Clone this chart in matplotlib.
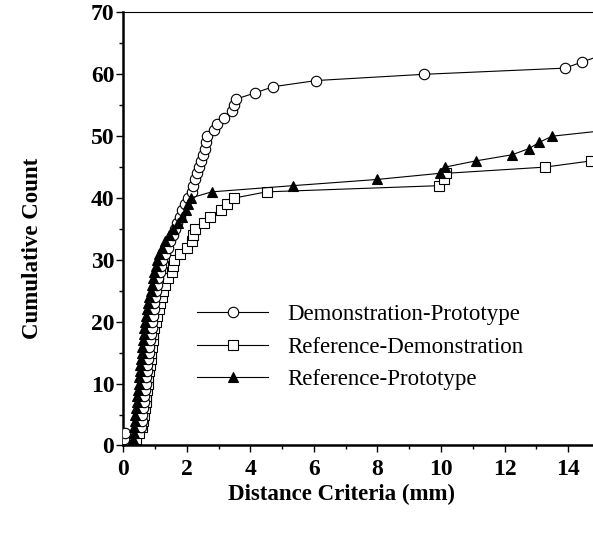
import matplotlib
matplotlib.use("Agg")
import matplotlib.pyplot as plt
from matplotlib.ticker import MultipleLocator

plt.rcParams['font.family'] = ['Liberation Serif', 'DejaVu Serif']

# Distance (mm) at which each successive match was counted
demo_proto_x = [0.03, 0.05, 0.55, 0.58, 0.60, 0.62, 0.64, 0.66, 0.68, 0.70,
                0.72, 0.74, 0.76, 0.78, 0.80, 0.82, 0.84, 0.86, 0.89, 0.91,
                0.94, 0.96, 0.98, 1.00, 1.03, 1.06, 1.10, 1.14, 1.18, 1.22,
                1.30, 1.40, 1.48, 1.55, 1.63, 1.70, 1.78, 1.85, 1.95, 2.05,
                2.15, 2.20, 2.26, 2.33, 2.39, 2.46, 2.52, 2.56, 2.60, 2.64,
                2.87, 2.94, 3.18, 3.42, 3.50, 3.55, 4.15, 4.72, 6.08, 9.45,
                13.90, 14.45, 15.00]
ref_demo_x = [0.40, 0.48, 0.58, 0.62, 0.64, 0.67, 0.70, 0.72, 0.75, 0.77,
              0.79, 0.81, 0.84, 0.86, 0.88, 0.90, 0.92, 0.95, 0.98, 1.03,
              1.07, 1.12, 1.17, 1.21, 1.26, 1.31, 1.40, 1.52, 1.55, 1.60,
              1.78, 2.00, 2.15, 2.20, 2.26, 2.54, 2.73, 3.07, 3.25, 3.49,
              4.51, 9.94, 10.10, 10.16, 13.27, 14.72]
ref_proto_x = [0.30, 0.33, 0.35, 0.36, 0.38, 0.41, 0.42, 0.44, 0.47, 0.48,
               0.50, 0.53, 0.54, 0.56, 0.59, 0.60, 0.62, 0.65, 0.66, 0.69,
               0.72, 0.75, 0.78, 0.82, 0.86, 0.90, 0.94, 0.98, 1.02, 1.06,
               1.12, 1.22, 1.32, 1.45, 1.58, 1.72, 1.85, 1.98, 2.05, 2.12,
               2.78, 5.33, 7.98, 9.97, 10.13, 11.09, 12.24, 12.77, 13.09, 13.50,
               15.30]

demo_proto_y = list(range(1, len(demo_proto_x) + 1))
ref_demo_y = list(range(1, len(ref_demo_x) + 1))
ref_proto_y = list(range(1, len(ref_proto_x) + 1))

labels = ['Demonstration-Prototype', 'Reference-Demonstration', 'Reference-Prototype']

fig = plt.figure(figsize=(5.93, 5.33), dpi=100)
# axes runs past the right edge of the figure, as in the original
ax = fig.add_axes([0.2079, 0.1642, 0.8036, 0.8124])

ax.plot(demo_proto_x, demo_proto_y, color='black', lw=0.8, marker='o', ms=7.5,
        mfc='white', mec='black', mew=0.8, label=labels[0], zorder=3)
ax.plot(ref_demo_x, ref_demo_y, color='black', lw=0.8, marker='s', ms=7,
        mfc='white', mec='black', mew=0.8, label=labels[1], zorder=2)
ax.plot(ref_proto_x, ref_proto_y, color='black', lw=0.8, marker='^', ms=7.5,
        mfc='black', mec='black', mew=0.8, label=labels[2], zorder=4)

ax.set_xlim(0, 15)
ax.set_ylim(0, 70)
ax.xaxis.set_major_locator(MultipleLocator(2))
ax.xaxis.set_minor_locator(MultipleLocator(1))
ax.yaxis.set_major_locator(MultipleLocator(10))
ax.yaxis.set_minor_locator(MultipleLocator(5))
ax.tick_params(which='major', direction='out', length=5, width=1, labelsize=17)
ax.tick_params(which='minor', direction='out', length=3, width=1)
ax.tick_params(axis='x', which='major', pad=5)
ax.tick_params(axis='y', which='major', pad=1.5)
for lab in ax.get_xticklabels() + ax.get_yticklabels():
    lab.set_fontweight('bold')

ax.spines['left'].set_linewidth(1.8)
ax.spines['bottom'].set_linewidth(1.8)
ax.spines['top'].set_linewidth(0.8)
ax.spines['right'].set_visible(False)

fig.text(342 / 593, 1 - 494 / 533, 'Distance Criteria (mm)', ha='center', va='center',
         fontsize=16.5, fontweight='bold')
fig.text(33 / 593, 1 - 248 / 533, 'Cumulative Count', ha='center', va='center',
         rotation=90, fontsize=16.5, fontweight='bold')

ax.legend(loc='upper left', bbox_to_anchor=(197 / 593, 1 - 304 / 533),
          bbox_transform=fig.transFigure, frameon=False, fontsize=16.5,
          handlelength=3.1, handletextpad=0.85, labelspacing=0.5, borderpad=0,
          borderaxespad=0)

fig.savefig('out.png', dpi=100)
